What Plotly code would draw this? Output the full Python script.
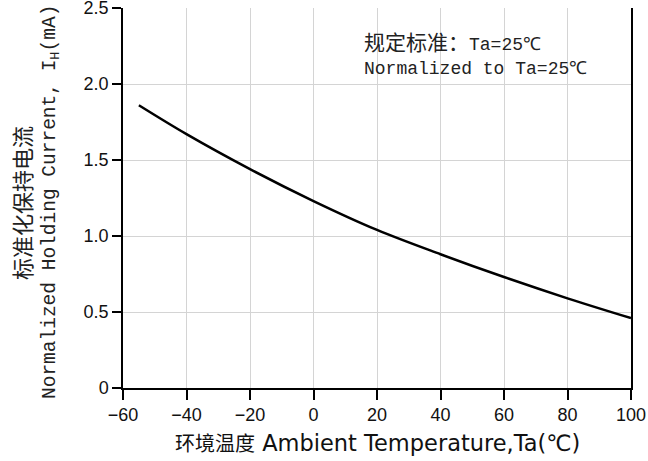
import plotly.graph_objects as go

# Data
temperature = [-55, -40, -20, 0, 20, 40, 60, 80, 100]
holding_current = [1.86, 1.67, 1.44, 1.23, 1.04, 0.88, 0.73, 0.59, 0.46]

x_ticks = [-60, -40, -20, 0, 20, 40, 60, 80, 100]
y_ticks = [0, 0.5, 1.0, 1.5, 2.0, 2.5]
y_ticktext = ["0", "0.5", "1.0", "1.5", "2.0", "2.5"]

x_title = ("<span style='font-family:Noto Sans CJK SC;font-size:20px'>环境温度</span>"
           " Ambient Temperature,Ta(℃)")
y_title_cn = "标准化保持电流"
y_title_en = "Normalized Holding Current, I<sub>H</sub>(mA)"
note_line1 = "<span style='font-family:Noto Sans CJK SC;font-size:21px'>规定标准：</span>Ta=25℃"
note_line2 = "Normalized to Ta=25℃"

W, H = 648, 461
L, R, T, B = 123, 17, 8, 73
pw, ph = W - L - R, H - T - B

def px_x(px):
    return (px - L) / pw

def px_y(py):
    return (H - B - py) / ph

fig = go.Figure()
fig.add_trace(go.Scatter(
    x=temperature, y=holding_current, mode="lines",
    line=dict(color="black", width=2.5, shape="spline"),
    showlegend=False, hoverinfo="skip",
))

axis_common = dict(
    showgrid=True, gridcolor="#d4d4d4", gridwidth=1,
    showline=True, linecolor="black", linewidth=1.5,
    ticks="outside", tickcolor="black", tickwidth=1.5,
    zeroline=False, ticklabeloverflow="allow", automargin=False,
    tickfont=dict(family="Liberation Sans", size=18, color="#111"),
)

fig.update_layout(
    width=W, height=H, autosize=False,
    margin=dict(l=L, r=R, t=T, b=B),
    paper_bgcolor="white", plot_bgcolor="white",
    xaxis=dict(range=[-60, 100], tickvals=x_ticks, ticklen=10,
               mirror=False, **axis_common),
    yaxis=dict(range=[0, 2.5], tickvals=y_ticks, ticktext=y_ticktext,
               ticklen=9, mirror=True, **axis_common),
    annotations=[
        dict(text=x_title, xref="paper", yref="paper",
             x=px_x(377), y=px_y(442), xanchor="center", yanchor="middle",
             showarrow=False,
             font=dict(family="DejaVu Sans", size=22.5, color="#111")),
        dict(text=y_title_cn, xref="paper", yref="paper",
             x=px_x(21), y=px_y(203), xanchor="center", yanchor="middle",
             textangle=-90, showarrow=False,
             font=dict(family="Noto Sans CJK SC", size=22, color="#222")),
        dict(text=y_title_en, xref="paper", yref="paper",
             x=px_x(51), y=px_y(202), xanchor="center", yanchor="middle",
             textangle=-90, showarrow=False,
             font=dict(family="Liberation Mono", size=19.5, color="#222")),
        dict(text=note_line1, xref="paper", yref="paper",
             x=px_x(362), y=px_y(41), xanchor="left", yanchor="middle",
             showarrow=False,
             font=dict(family="Liberation Mono", size=18, color="#222")),
        dict(text=note_line2, xref="paper", yref="paper",
             x=px_x(362), y=px_y(69), xanchor="left", yanchor="middle",
             showarrow=False,
             font=dict(family="Liberation Mono", size=18, color="#222")),
    ],
)

fig.write_html("out.html", config={"displayModeBar": False},
               post_script="document.body.style.margin='0';document.body.style.overflow='hidden';")
